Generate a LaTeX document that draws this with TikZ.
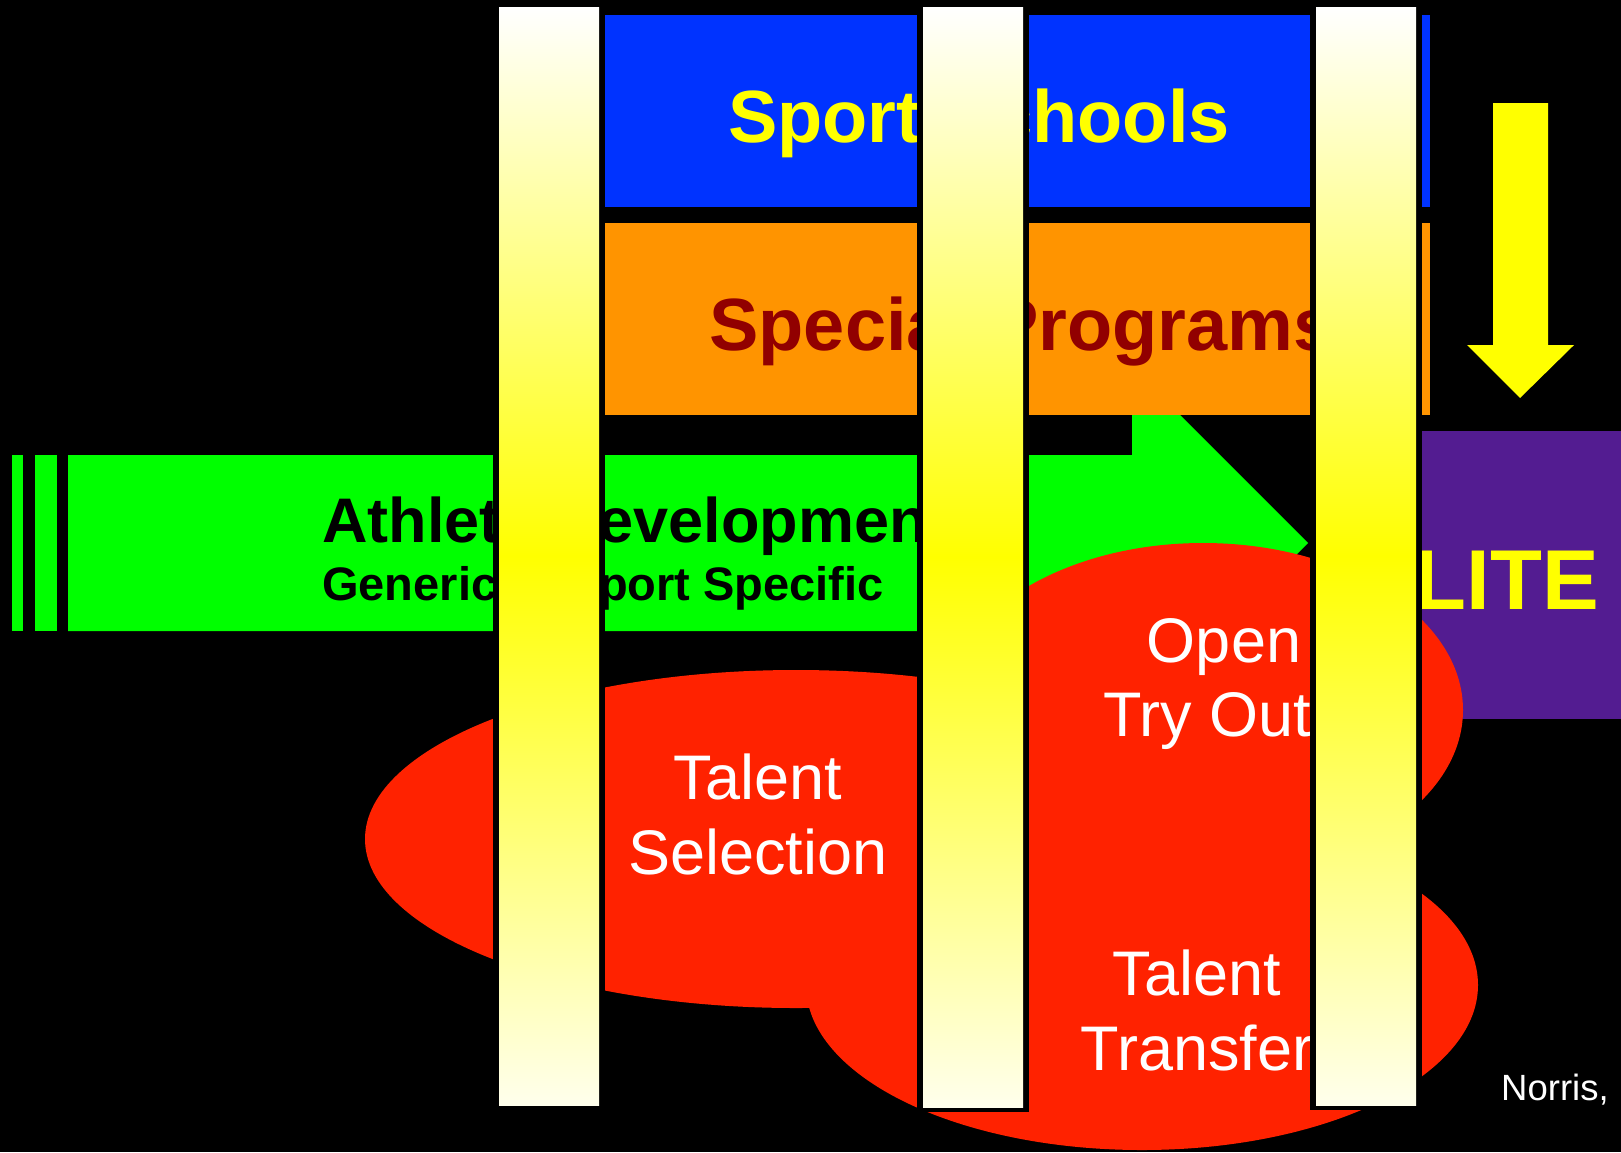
\documentclass[tikz,border=0pt]{standalone}
\usepackage{fontspec}
\setmainfont{Liberation Sans}
\definecolor{sblue}{RGB}{0,51,255}
\definecolor{sorange}{RGB}{255,148,0}
\definecolor{sgreen}{RGB}{0,255,0}
\definecolor{sred}{RGB}{255,34,0}
\definecolor{spurple}{RGB}{83,28,145}
\definecolor{sdark}{RGB}{145,0,0}
\definecolor{cream}{RGB}{255,255,236}
\definecolor{syellow}{RGB}{255,255,0}
\begin{document}
\begin{tikzpicture}[x=1pt,y=-1pt,
  txt/.style={inner sep=0pt,anchor=base},
  bigbold/.style={txt,font=\fontsize{74}{80}\selectfont\bfseries},
  whitetxt/.style={txt,text=white,font=\fontsize{63}{70}\selectfont},
  barshade/.style={top color=white,bottom color=cream,middle color=syellow}]
\useasboundingbox (0,0) rectangle (1621,1152);
\fill[black] (0,0) rectangle (1621,1152);
% green arrow and stripes
\fill[sgreen] (12,455) rectangle (23,631);
\fill[sgreen] (35,455) rectangle (57,631);
\fill[sgreen] (68,455) -- (1132,455) -- (1132,367) -- (1308,543) -- (1132,719) -- (1132,631) -- (68,631) -- cycle;
% blue and orange bands
\fill[sblue] (605,15) rectangle (1430,207);
\fill[sorange] (605,223) rectangle (1430,415);
% purple box
\fill[spurple] (1421,431) rectangle (1625,719);
% red ellipses
\fill[sred] (796,839) ellipse [x radius=431, y radius=169];
\fill[sred] (1142,985) ellipse [x radius=336, y radius=165];
\fill[sred] (1203,710) ellipse [x radius=260, y radius=167];
% texts
\node[bigbold,text=syellow] (ss) at (979,142) {Sport Schools};
\node[bigbold,text=sdark] (sp) at (1022,350) {Special Programs};
\node[txt,anchor=base west,font=\fontsize{63}{70}\selectfont\bfseries] (ad) at (322,542) {Athlete Development};
\node[txt,anchor=base west,font=\fontsize{47}{50}\selectfont\bfseries] (gs) at (322,600) {Generic to Sport Specific};
\node[txt,anchor=base east,text=syellow,font=\fontsize{85}{90}\selectfont\bfseries] (el) at (1599,609) {ELITE};
\node[whitetxt] (t1) at (758,799) {Talent};
\node[whitetxt] (t2) at (758,874) {Selection};
\node[whitetxt] (o1) at (1224,662) {Open};
\node[whitetxt,anchor=base west] (o2) at (1103,736) {Try Out};
\node[whitetxt] (r1) at (1197,995) {Talent};
\node[whitetxt] (r2) at (1197,1070) {Transfer};
\node[txt,anchor=base west,text=white,font=\fontsize{36.5}{40}\selectfont] (no) at (1501,1100) {Norris,};
% bars
\foreach \xa/\yb in {499/1105,923/1107,1316/1105}{
  \fill[black] (\xa-6,1) rectangle (\xa+106,\yb+5);
  \shade[barshade] (\xa,7) rectangle (\xa+100,\yb);
}
% yellow arrow
\fill[syellow] (1493,103) -- (1548,103) -- (1548,345) -- (1574,345) -- (1520,398) -- (1467,345) -- (1493,345) -- cycle;
\end{tikzpicture}
\end{document}
